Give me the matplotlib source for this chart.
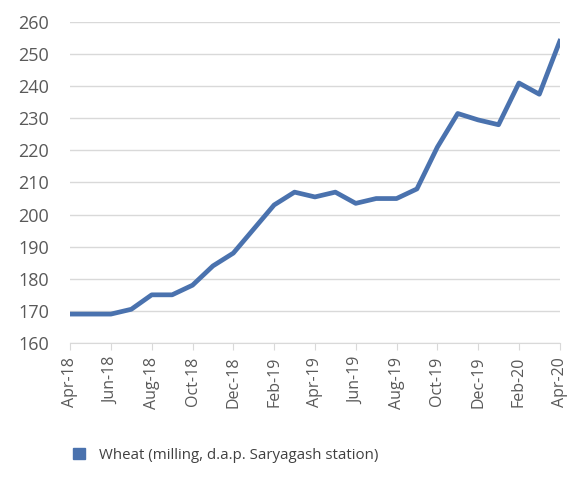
import matplotlib.pyplot as plt
import numpy as np

plt.rcParams['font.family'] = ['Open Sans', 'DejaVu Sans']

months = ['Apr-18', 'May-18', 'Jun-18', 'Jul-18', 'Aug-18', 'Sep-18', 'Oct-18',
          'Nov-18', 'Dec-18', 'Jan-19', 'Feb-19', 'Mar-19', 'Apr-19', 'May-19',
          'Jun-19', 'Jul-19', 'Aug-19', 'Sep-19', 'Oct-19', 'Nov-19', 'Dec-19',
          'Jan-20', 'Feb-20', 'Mar-20', 'Apr-20']
wheat = [169, 169, 169, 170.5, 175, 175, 178, 184, 188, 195.5, 203, 207,
         205.5, 207, 203.5, 205, 205, 208, 221, 231.5, 229.5, 228, 241, 237.5, 254]
label = 'Wheat (milling, d.a.p. Saryagash station)'

fig = plt.figure(figsize=(5.7, 4.79), dpi=100)
ax = fig.add_axes([0.123, 0.284, 0.859, 0.670])

x = np.arange(len(months))
ax.plot(x, wheat, color='#4a72ae', lw=3.4, solid_joinstyle='round', label=label)

ax.set_xlim(0, len(months) - 1)
ax.set_ylim(160, 260)
ax.set_yticks(np.arange(160, 261, 10))
ax.set_xticks(x[::2])
ax.set_xticklabels(months[::2], rotation=90)
ax.grid(axis='y', color='#d9d9d9', lw=1)
ax.set_axisbelow(True)
for s in ['left', 'right', 'top']:
    ax.spines[s].set_visible(False)
ax.spines['bottom'].set_color('#d9d9d9')
ax.tick_params(axis='y', length=0, pad=15, labelsize=13, labelcolor='#595959')
ax.tick_params(axis='x', length=5, color='#d9d9d9', pad=5, labelsize=11.5, labelcolor='#595959')

fig.legend(loc='lower left', bbox_to_anchor=(0.105, 0.006), frameon=False,
           handles=[plt.Rectangle((0, 0), 1, 1, color='#4a72ae')], labels=[label],
           handlelength=0.8, handleheight=0.8, handletextpad=0.9,
           fontsize=10.8, labelcolor='#404040')

fig.savefig('out.png', dpi=100)
